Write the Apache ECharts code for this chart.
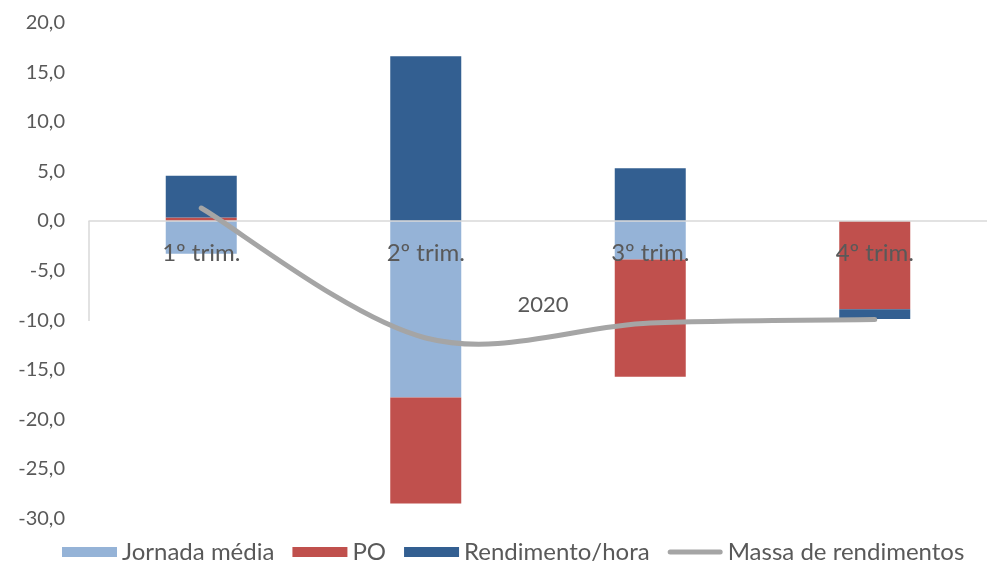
<!DOCTYPE html>
<html>
<head>
<meta charset="utf-8">
<script src="https://cdn.jsdelivr.net/npm/echarts@6/dist/echarts.min.js"></script>
<style>
  html, body { margin: 0; padding: 0; background: #ffffff; }
  #chart { width: 987px; height: 566px; }
</style>
</head>
<body>
<div id="chart"></div>
<script>
// Quarterly decomposition of income mass, 2020 (p.p.)
var categories = ['1º trim.', '2º trim.', '3º trim.', '4º trim.'];
var yearLabel = '2020';
var jornadaMedia = [-3.3, -17.8, -3.9, 0.0];
var po = [0.35, -10.7, -11.8, -8.9];
var rendimentoHora = [4.2, 16.6, 5.3, -1.0];
var massaRendimentos = [1.3, -11.8, -10.3, -9.95];

var TEXT = '#595959';
var FONT = 'Lato';
var LINE_GRAY = '#A5A5A5';
var gridLeft = 89, gridWidth = 908, gridTop = 22.5, gridBottom = 47.5;

// rounded line swatch for the line series legend entry (55x10 box, 5px stroke)
var lineSwatch = 'path://M0,0 M55,10 M2.5,2.5 L52.5,2.5 A2.5,2.5 0 0 1 52.5,7.5 L2.5,7.5 A2.5,2.5 0 0 1 2.5,2.5 Z';

// Smoothed line through all points (Catmull-Rom style cubic Bezier segments),
// drawn once from the pixel positions the axes give for each value.
function renderSmoothLine(params, api) {
  if (params.dataIndex !== 0) return null;
  var pts = massaRendimentos.map(function (v, i) { return api.coord([i, v]); });
  var n = pts.length;
  var d = 'M' + pts[0][0] + ',' + pts[0][1];
  for (var i = 0; i < n - 1; i++) {
    var p0 = pts[Math.max(i - 1, 0)], p1 = pts[i], p2 = pts[i + 1], p3 = pts[Math.min(i + 2, n - 1)];
    var c1x = p1[0] + (p2[0] - p0[0]) / 6, c1y = p1[1] + (p2[1] - p0[1]) / 6;
    var c2x = p2[0] - (p3[0] - p1[0]) / 6, c2y = p2[1] - (p3[1] - p1[1]) / 6;
    d += ' C' + c1x + ',' + c1y + ' ' + c2x + ',' + c2y + ' ' + p2[0] + ',' + p2[1];
  }
  return {
    type: 'path',
    shape: { pathData: d },
    style: { fill: 'none', stroke: LINE_GRAY, lineWidth: 5, lineCap: 'round', lineJoin: 'round' }
  };
}

var chart = echarts.init(document.getElementById('chart'), null, { renderer: 'canvas' });

var option = {
  animation: false,
  backgroundColor: '#ffffff',
  textStyle: { fontFamily: FONT, color: TEXT },
  grid: { left: gridLeft, width: gridWidth, top: gridTop, bottom: gridBottom, containLabel: false },
  legend: {
    left: 62,
    top: 540,
    padding: 0,
    itemGap: 18,
    itemWidth: 55,
    itemHeight: 10,
    textStyle: { fontFamily: FONT, fontSize: 24, color: TEXT },
    data: [
      { name: 'Jornada média', icon: 'rect' },
      { name: 'PO', icon: 'rect' },
      { name: 'Rendimento/hora', icon: 'rect' },
      { name: 'Massa de rendimentos', icon: lineSwatch }
    ]
  },
  xAxis: {
    type: 'category',
    data: categories,
    z: 3,
    axisLine: { onZero: false, lineStyle: { color: '#D9D9D9', width: 1.5 } },
    axisTick: { show: false },
    axisLabel: { fontFamily: FONT, fontSize: 24, color: TEXT, margin: 20 },
    splitLine: { show: false }
  },
  yAxis: {
    type: 'value',
    min: -30,
    max: 20,
    interval: 5,
    axisLine: { show: false },
    axisTick: { show: false },
    splitLine: { show: false },
    axisLabel: {
      fontFamily: FONT, fontSize: 20, color: TEXT, margin: 24,
      formatter: function (v) { return v.toFixed(1).replace('.', ','); }
    }
  },
  series: [
    { name: 'Jornada média', type: 'bar', stack: 'total', barWidth: 71,
      itemStyle: { color: '#95B3D7' }, data: jornadaMedia },
    { name: 'PO', type: 'bar', stack: 'total', barWidth: 71,
      itemStyle: { color: '#C0504D' }, data: po },
    { name: 'Rendimento/hora', type: 'bar', stack: 'total', barWidth: 71,
      itemStyle: { color: '#335F91' }, data: rendimentoHora },
    { name: 'Massa de rendimentos', type: 'custom', z: 4,
      itemStyle: { color: LINE_GRAY },
      renderItem: renderSmoothLine,
      encode: { x: 0, y: 1 },
      data: massaRendimentos.map(function (v, i) { return [i, v]; }) }
  ]
};

chart.setOption(option);

// Move the category axis up to the zero line, then add the year label
// and its group separators below it
var y0 = chart.convertToPixel({ yAxisIndex: 0 }, 0);
var yBottom = chart.convertToPixel({ yAxisIndex: 0 }, -30);
chart.setOption({
  xAxis: { offset: y0 - yBottom },
  graphic: [
    { type: 'line', z: 3, shape: { x1: gridLeft, y1: y0, x2: gridLeft, y2: y0 + 100 },
      style: { stroke: '#D9D9D9', lineWidth: 1.5 } },
    { type: 'line', z: 3, shape: { x1: gridLeft + gridWidth, y1: y0, x2: gridLeft + gridWidth, y2: y0 + 100 },
      style: { stroke: '#D9D9D9', lineWidth: 1.5 } },
    { type: 'text', z: 3, x: gridLeft + gridWidth / 2, y: y0 + 84,
      style: { text: yearLabel, fontFamily: FONT, fontSize: 22, fill: TEXT, align: 'center', verticalAlign: 'middle' } }
  ]
});
</script>
</body>
</html>
